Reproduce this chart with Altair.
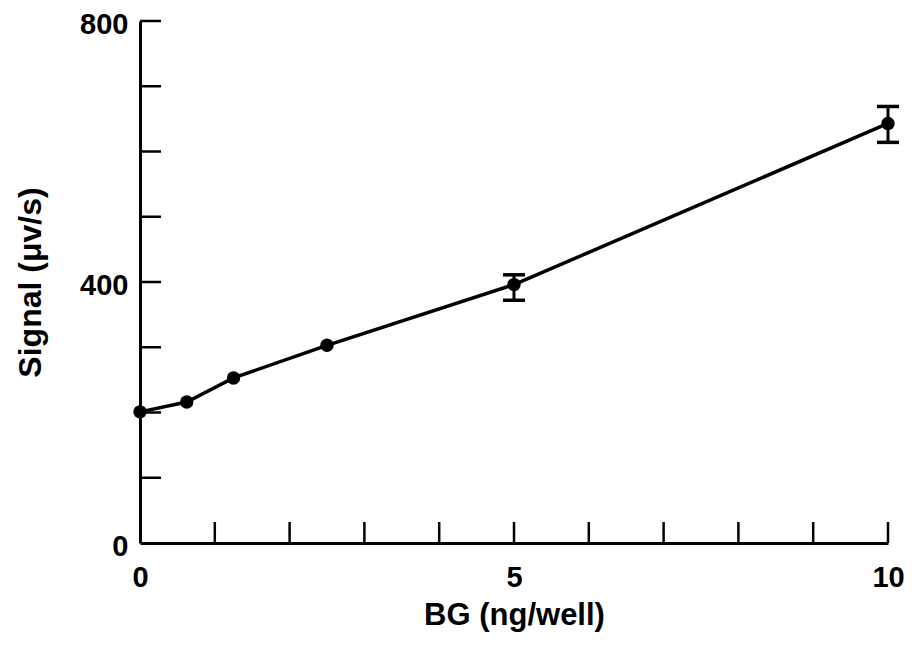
import altair as alt
import pandas as pd

# Data
bg = [0, 0.625, 1.25, 2.5, 5, 10]
signal = [201, 216, 253, 303, 396, 643]
err_x = [5, 10]
err_lo = [372, 614]
err_hi = [411, 669]
x_tick_vals = [1, 2, 3, 4, 5, 6, 7, 8, 9, 10]
y_tick_vals = [100, 200, 300, 400, 500, 600, 700, 800]
x_labels = [0, 5, 10]
y_labels = [0, 400, 800]

FONT = "Liberation Sans"

df = pd.DataFrame({"bg": bg, "signal": signal})
df_err = pd.DataFrame({"bg": err_x, "lo": err_lo, "hi": err_hi})
df_xt = pd.DataFrame({"t": x_tick_vals})
df_yt = pd.DataFrame({"t": y_tick_vals})

xs = alt.Scale(domain=[0, 10], nice=False, zero=False)
ys = alt.Scale(domain=[0, 800], nice=False)

x_axis = alt.Axis(
    values=x_labels, title="BG (ng/well)", tickSize=0, grid=False,
    domainColor="black", domainWidth=3,
    labelFont=FONT, labelFontSize=29, labelFontWeight="bold", labelColor="black",
    labelPadding=20, labelFlush=False,
    titleFont=FONT, titleFontSize=31, titleFontWeight="bold", titleColor="black",
    titlePadding=8,
)
y_axis = alt.Axis(
    values=y_labels, title="Signal (μv/s)", tickSize=0, grid=False,
    domainColor="black", domainWidth=3,
    labelFont=FONT, labelFontSize=29, labelFontWeight="bold", labelColor="black",
    labelPadding=12, labelFlush=False, labelOffset=3,
    titleFont=FONT, titleFontSize=32, titleFontWeight="bold", titleColor="black",
    titlePadding=32,
)

line = alt.Chart(df).mark_line(color="black", strokeWidth=3.5).encode(
    x=alt.X("bg:Q", scale=xs, axis=x_axis),
    y=alt.Y("signal:Q", scale=ys, axis=y_axis),
)
points = alt.Chart(df).mark_circle(color="black", opacity=1, size=180).encode(
    x=alt.X("bg:Q", scale=xs, axis=x_axis),
    y=alt.Y("signal:Q", scale=ys, axis=y_axis),
)
err = alt.Chart(df_err).mark_rule(color="black", strokeWidth=3, opacity=1).encode(
    x=alt.X("bg:Q", scale=xs, axis=x_axis),
    y=alt.Y("lo:Q", scale=ys, axis=y_axis),
    y2="hi:Q",
)
cap_lo = alt.Chart(df_err).mark_tick(color="black", orient="horizontal", size=22, thickness=3.5, opacity=1).encode(
    x=alt.X("bg:Q", scale=xs, axis=x_axis),
    y=alt.Y("lo:Q", scale=ys, axis=y_axis),
)
cap_hi = alt.Chart(df_err).mark_tick(color="black", orient="horizontal", size=22, thickness=3.5, opacity=1).encode(
    x=alt.X("bg:Q", scale=xs, axis=x_axis),
    y=alt.Y("hi:Q", scale=ys, axis=y_axis),
)
xticks = alt.Chart(df_xt).mark_rule(color="black", strokeWidth=2.5).encode(
    x=alt.X("t:Q", scale=xs, axis=x_axis),
    y=alt.value(501), y2=alt.value(522),
)
yticks = alt.Chart(df_yt).mark_rule(color="black", strokeWidth=2.5).encode(
    y=alt.Y("t:Q", scale=ys, axis=y_axis),
    x=alt.value(0), x2=alt.value(21),
)

chart = alt.layer(line, err, cap_lo, cap_hi, points, xticks, yticks).properties(
    width=748, height=522,
    autosize=alt.AutoSizeParams(type="none"),
    padding={"left": 132, "top": 13, "right": 16, "bottom": 90},
).configure(background="white").configure_view(stroke=None)

chart.save("out.html", embed_options={"renderer": "svg", "actions": False})
